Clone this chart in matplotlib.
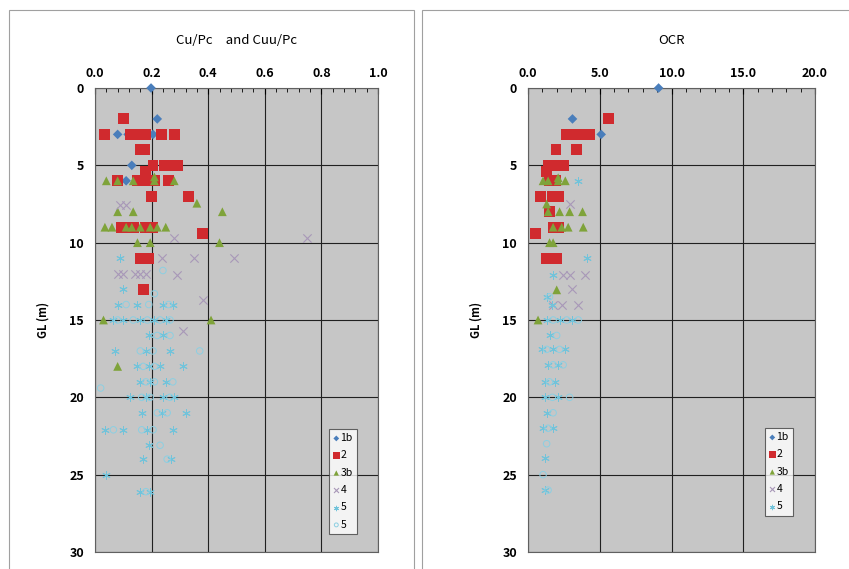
import numpy as np
import matplotlib
matplotlib.use("Agg")
import matplotlib.pyplot as plt
from matplotlib.patches import Rectangle

plt.rcParams['font.family'] = ['Noto Sans CJK JP', 'DejaVu Sans']

# ---- Cu/Pc and Cuu/Pc : (value, depth) ----
cu_1b_x = [0.198, 0.22, 0.08, 0.117, 0.155, 0.18, 0.205, 0.13, 0.275, 0.11]
cu_1b_z = [0.0, 2.0, 3.0, 3.0, 3.0, 3.0, 3.0, 5.0, 5.0, 6.0]

cu_2_x = [0.10, 0.035, 0.125, 0.14, 0.165, 0.18, 0.235, 0.28, 0.16, 0.175,
          0.205, 0.245, 0.265, 0.29, 0.18, 0.08, 0.15, 0.17, 0.19, 0.21, 0.26,
          0.20, 0.33, 0.095, 0.11, 0.135, 0.18, 0.205, 0.38, 0.16, 0.19, 0.17]
cu_2_z = [2.0, 3.0, 3.0, 3.0, 3.0, 3.0, 3.0, 3.0, 4.0, 4.0,
          5.0, 5.0, 5.0, 5.0, 5.4, 6.0, 6.0, 6.0, 6.0, 6.0, 6.0,
          7.0, 7.0, 9.0, 9.0, 9.0, 9.0, 9.0, 9.4, 11.0, 11.0, 13.0]

cu_3b_x = [0.04, 0.08, 0.135, 0.21, 0.28, 0.21, 0.36, 0.08, 0.135, 0.45,
           0.035, 0.06, 0.11, 0.13, 0.16, 0.195, 0.22, 0.25, 0.15, 0.195, 0.44,
           0.03, 0.41, 0.08]
cu_3b_z = [6.0, 6.0, 6.0, 6.0, 6.0, 5.75, 7.45, 8.0, 8.0, 8.0,
           9.0, 9.0, 9.0, 9.0, 9.0, 9.0, 9.0, 9.0, 10.0, 10.0, 10.0,
           15.0, 15.0, 18.0]

cu_4_x = [0.09, 0.11, 0.28, 0.75, 0.235, 0.35, 0.49, 0.08, 0.10, 0.14, 0.16,
          0.18, 0.29, 0.38, 0.31]
cu_4_z = [7.55, 7.55, 9.7, 9.7, 11.0, 11.0, 11.0, 12.0, 12.0, 12.0, 12.0,
          12.0, 12.1, 13.7, 15.7]

cu_5a_x = [0.09, 0.10, 0.08, 0.15, 0.24, 0.275, 0.065, 0.10, 0.16, 0.21, 0.25,
           0.19, 0.24, 0.07, 0.18, 0.265, 0.15, 0.19, 0.23, 0.31,
           0.16, 0.195, 0.25, 0.125, 0.18, 0.24, 0.28, 0.165, 0.235, 0.32,
           0.035, 0.10, 0.185, 0.275, 0.19, 0.17, 0.27, 0.04, 0.16, 0.195]
cu_5a_z = [11.0, 13.0, 14.0, 14.0, 14.0, 14.0, 15.0, 15.0, 15.0, 15.0, 15.0,
           16.0, 16.0, 17.0, 17.0, 17.0, 18.0, 18.0, 18.0, 18.0,
           19.0, 19.0, 19.0, 20.0, 20.0, 20.0, 20.0, 21.0, 21.0, 21.0,
           22.1, 22.1, 22.1, 22.1, 23.1, 24.0, 24.0, 25.0, 26.1, 26.1]

cu_5b_x = [0.24, 0.21, 0.11, 0.19, 0.26, 0.08, 0.135, 0.185, 0.23, 0.265,
           0.22, 0.265, 0.16, 0.205, 0.37, 0.17, 0.21, 0.02, 0.18, 0.21,
           0.275, 0.165, 0.195, 0.265, 0.22, 0.255, 0.065, 0.165, 0.205, 0.23,
           0.255, 0.18]
cu_5b_z = [11.8, 13.3, 14.0, 14.0, 14.0, 15.0, 15.0, 15.0, 15.0, 15.0,
           16.0, 16.0, 17.0, 17.0, 17.0, 18.0, 18.0, 19.4, 19.0, 19.0,
           19.0, 20.0, 20.0, 20.0, 21.0, 21.0, 22.1, 22.1, 22.1, 23.1,
           24.0, 26.1]

# ---- OCR : (value, depth) ----
ocr_1b_x = [9.1, 3.1, 3.75, 5.1]
ocr_1b_z = [0.0, 2.0, 3.0, 3.0]

ocr_2_x = [5.6, 2.7, 3.05, 3.75, 4.3, 1.95, 3.35, 1.4, 1.9, 2.45, 1.3, 1.5, 1.9,
           0.9, 1.7, 2.1, 1.5, 1.75, 2.1, 0.55, 1.3, 1.75, 2.0]
ocr_2_z = [2.0, 3.0, 3.0, 3.0, 3.0, 4.0, 4.0, 5.0, 5.0, 5.0, 5.4, 6.0, 6.0,
           7.0, 7.0, 7.0, 8.0, 9.0, 9.0, 9.4, 11.0, 11.0, 11.0]

ocr_3b_x = [1.05, 1.4, 2.1, 2.6, 2.1, 1.3, 1.4, 2.2, 2.9, 3.8, 1.75, 2.35, 2.8,
            3.85, 1.5, 1.75, 2.0, 0.7]
ocr_3b_z = [6.0, 6.0, 6.0, 6.0, 5.8, 7.5, 8.0, 8.0, 8.0, 8.0, 9.0, 9.0, 9.0,
            9.0, 10.0, 10.0, 13.05, 15.0]

ocr_4_x = [2.9, 2.45, 2.9, 4.0, 3.1, 1.75, 2.35, 3.5]
ocr_4_z = [7.5, 12.1, 12.1, 12.1, 13.0, 14.0, 14.0, 14.0]

ocr_5a_x = [3.5, 4.1, 1.75, 1.3, 1.7, 1.3, 2.2, 3.1, 1.5, 0.95, 1.75, 2.6,
            1.4, 2.1, 1.2, 1.9, 1.2, 2.1, 1.3, 1.05, 1.75, 1.2, 1.2]
ocr_5a_z = [6.0, 11.0, 12.1, 13.5, 14.0, 15.0, 15.0, 15.0, 16.0, 16.9, 16.9,
            16.9, 17.9, 17.9, 19.0, 19.0, 20.0, 20.0, 21.0, 22.0, 22.0, 23.9, 26.0]

ocr_5b_x = [1.5, 1.75, 2.7, 3.5, 2.0, 1.3, 2.2, 1.75, 2.45, 1.5, 1.7, 2.9,
            1.75, 1.4, 1.3, 1.05, 1.4]
ocr_5b_z = [13.5, 15.0, 15.0, 15.0, 16.0, 16.9, 16.9, 17.9, 17.9, 19.0, 20.0,
            20.0, 21.0, 22.0, 23.0, 25.0, 26.0]

labels = ['1b', '2', '3b', '4', '5', '5']

fig = plt.figure(figsize=(8.49, 5.69), dpi=100)

# chart area frames
fig.patches.append(Rectangle((9 / 849, -0.01), 405 / 849, 1 - 10 / 569 + 0.01,
                             transform=fig.transFigure, fill=False,
                             edgecolor='#a0a0a0', linewidth=0.8))
fig.patches.append(Rectangle((422 / 849, -0.01), 430 / 849, 1 - 10 / 569 + 0.01,
                             transform=fig.transFigure, fill=False,
                             edgecolor='#a0a0a0', linewidth=0.8))


def draw_panel(ax, series, xmax, xstep, minor, fmt, title, n_legend, legend_pos):
    ax.set_facecolor('#c6c6c6')
    styles = [
        dict(marker='D', s=24, color='#4a7ebb', edgecolors='none'),
        dict(marker='s', s=62, color='#d02a2e', edgecolors='none'),
        dict(marker='^', s=40, color='#7fa33a', edgecolors='none'),
        dict(marker='x', s=36, color='#a898b8', linewidths=0.8),
        dict(marker=(6, 2, 0), s=30, color='#72c3da', linewidths=0.7),
        dict(marker='o', s=22, facecolors='none', edgecolors='#8ccfe2', linewidths=0.7),
    ]
    handles = []
    for (xs, zs), st, lab in zip(series, styles, labels):
        h = ax.scatter(xs, zs, label=lab, zorder=3, clip_on=False, **st)
        handles.append(h)

    ax.set_xlim(0, xmax)
    ax.set_ylim(30, 0)
    ax.set_xticks(np.arange(0, xmax + xstep / 2, xstep))
    ax.set_xticklabels([fmt.format(v) for v in np.arange(0, xmax + xstep / 2, xstep)])
    ax.set_xticks(np.arange(0, xmax + 1e-9, minor), minor=True)
    ax.set_yticks(np.arange(0, 31, 5))
    ax.xaxis.tick_top()
    ax.tick_params(axis='x', which='major', direction='in', length=4,
                   labelsize=9, pad=6, width=0.8)
    ax.tick_params(axis='x', which='minor', direction='in', length=3, width=0.6)
    ax.tick_params(axis='y', length=0, labelsize=9, pad=8)
    for lab in ax.get_xticklabels() + ax.get_yticklabels():
        lab.set_fontweight('bold')
    ax.grid(True, which='major', color='#202020', linewidth=0.8)
    ax.set_axisbelow(True)
    for sp in ax.spines.values():
        sp.set_color('#606060')
        sp.set_linewidth(0.8)
    ax.set_ylabel('GL (m)', fontsize=8, fontweight='bold', labelpad=14)
    ax.set_title(title, fontsize=9.5, pad=32)

    leg = ax.legend(handles=handles[:n_legend], loc='upper left',
                    bbox_to_anchor=legend_pos, fontsize=7.5, frameon=True,
                    fancybox=False, edgecolor='#404040', handlelength=0.6,
                    handletextpad=0.1, borderpad=0.4, labelspacing=0.7,
                    markerscale=0.6, borderaxespad=0)
    leg.get_frame().set_linewidth(0.8)


ax1 = fig.add_axes([95 / 849, 17 / 569, 283 / 849, 464 / 569])
draw_panel(ax1,
           [(cu_1b_x, cu_1b_z), (cu_2_x, cu_2_z), (cu_3b_x, cu_3b_z),
            (cu_4_x, cu_4_z), (cu_5a_x, cu_5a_z), (cu_5b_x, cu_5b_z)],
           1.0, 0.2, 0.04, '{:.1f}', 'Cu/Pc\u3000and Cuu/Pc', 6,
           ((329 - 95) / 283, (552 - 429) / 464))

ax2 = fig.add_axes([528 / 849, 17 / 569, 287 / 849, 464 / 569])
draw_panel(ax2,
           [(ocr_1b_x, ocr_1b_z), (ocr_2_x, ocr_2_z), (ocr_3b_x, ocr_3b_z),
            (ocr_4_x, ocr_4_z), (ocr_5a_x, ocr_5a_z), (ocr_5b_x, ocr_5b_z)],
           20.0, 5.0, 1.0, '{:.1f}', 'OCR', 5,
           ((765 - 528) / 287, (552 - 428) / 464))

fig.savefig('out.png', dpi=100)
